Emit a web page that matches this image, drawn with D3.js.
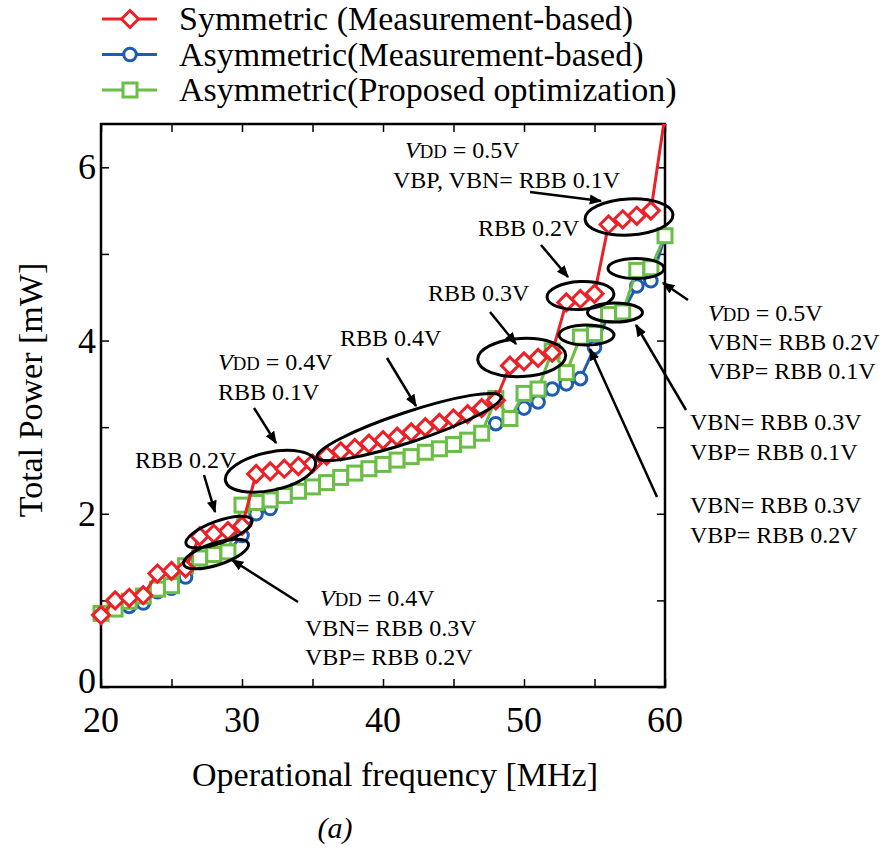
<!DOCTYPE html>
<html>
<head>
<meta charset="utf-8">
<script src="https://cdn.jsdelivr.net/npm/d3@7"></script>
<style>
  html, body { margin: 0; padding: 0; background: #fff; }
  svg { display: block; font-family: "Liberation Serif", "Times New Roman", serif; }
</style>
</head>
<body>
<svg id="chart" width="886" height="848"></svg>
<script>
// Operational frequency sweep [MHz]
const freq = [20,21,22,23,24,25,26,27,28,29,30,31,32,33,34,35,36,37,38,39,40,
              41,42,43,44,45,46,47,48,49,50,51,52,53,54,55,56,57,58,59,60];

// Total power [mW]
const symmetricMeas = [0.83,1.00,1.03,1.06,1.31,1.34,1.37,1.74,1.77,1.80,1.86,
  2.46,2.49,2.52,2.55,2.58,2.67,2.72,2.76,2.81,2.85,2.89,2.94,3.00,3.05,3.10,
  3.15,3.22,3.31,3.71,3.76,3.80,3.86,4.44,4.48,4.54,5.34,5.40,5.44,5.50,6.60];
const asymmetricMeas = [0.83,0.90,0.93,0.97,1.10,1.14,1.27,1.48,1.52,1.56,1.75,
  2.00,2.06,2.20,2.26,2.31,2.36,2.42,2.47,2.52,2.57,2.62,2.66,2.71,2.75,2.80,
  2.85,2.93,3.04,3.10,3.22,3.29,3.44,3.50,3.56,3.92,4.30,4.33,4.63,4.69,5.20];
const asymmetricOpt = [0.85,0.90,0.99,1.05,1.13,1.17,1.40,1.49,1.53,1.56,2.10,
  2.13,2.16,2.21,2.26,2.31,2.36,2.42,2.47,2.52,2.57,2.62,2.66,2.71,2.75,2.80,
  2.85,2.93,3.33,3.10,3.39,3.44,3.88,3.63,4.04,4.08,4.30,4.33,4.81,4.84,5.21];

const seriesNames = ["Symmetric (Measurement-based)",
                     "Asymmetric(Measurement-based)",
                     "Asymmetric(Proposed optimization)"];

const xTicks = [20,30,40,50,60];
const xMinorTicks = [20,25,30,35,40,45,50,55,60];
const yTicks = [0,2,4,6];
const yMinorTicks = [0,1,2,3,4,5,6];

// ---- layout ----
const svg = d3.select("#chart");
const plot = { left: 101, right: 665, top: 124, bottom: 687 };

const x = d3.scaleLinear().domain([20, 60]).range([plot.left, plot.right]);
const y = d3.scaleLinear().domain([0, 6.5]).range([plot.bottom, plot.top]);

const colors = { red: "#ec2027", blue: "#1f5bb0", green: "#6abd45" };
const strokeW = 3;

// data are clipped only at the top of the frame
svg.append("defs").append("clipPath").attr("id", "plotClip")
  .append("rect")
  .attr("x", 0).attr("y", plot.top)
  .attr("width", 886).attr("height", 848 - plot.top);

svg.select("defs").append("marker")
  .attr("id", "arrow")
  .attr("viewBox", "0 0 10 10")
  .attr("refX", 9).attr("refY", 5)
  .attr("markerWidth", 5).attr("markerHeight", 5)
  .attr("markerUnits", "strokeWidth")
  .attr("orient", "auto")
  .append("path").attr("d", "M0,1 L10,5 L0,9 Z").attr("fill", "#000");

// ---- axes (ticks inside, mirrored on all four sides) ----
const tickLen = 8;
const axisFont = 36;

const gBottom = svg.append("g").attr("transform", `translate(0,${plot.bottom})`)
  .call(d3.axisBottom(x).tickValues(xMinorTicks).tickSize(-tickLen).tickFormat(""));
const gTop = svg.append("g").attr("transform", `translate(0,${plot.top})`)
  .call(d3.axisTop(x).tickValues(xMinorTicks).tickSize(-tickLen).tickFormat(""));
const gLeft = svg.append("g").attr("transform", `translate(${plot.left},0)`)
  .call(d3.axisLeft(y).tickValues(yMinorTicks).tickSize(-tickLen).tickFormat(""));
const gRight = svg.append("g").attr("transform", `translate(${plot.right},0)`)
  .call(d3.axisRight(y).tickValues(yMinorTicks).tickSize(-tickLen).tickFormat(""));
[gBottom, gTop, gLeft, gRight].forEach(g => {
  g.select(".domain").remove();
  g.selectAll("line").attr("stroke", "#000").attr("stroke-width", 1.5);
});

svg.append("rect")
  .attr("x", plot.left).attr("y", plot.top)
  .attr("width", plot.right - plot.left).attr("height", plot.bottom - plot.top)
  .attr("fill", "none").attr("stroke", "#000").attr("stroke-width", 2.5);

// tick labels
svg.append("g").selectAll("text").data(xTicks).join("text")
  .attr("x", d => x(d)).attr("y", plot.bottom + 45)
  .attr("text-anchor", "middle").attr("font-size", axisFont)
  .text(d => d);
svg.append("g").selectAll("text").data(yTicks).join("text")
  .attr("x", plot.left - 5).attr("y", d => y(d) + (d === 0 ? 6 : 12))
  .attr("text-anchor", "end").attr("font-size", axisFont)
  .text(d => d);

// axis titles
svg.append("text")
  .attr("x", 395).attr("y", 786)
  .attr("text-anchor", "middle").attr("font-size", 34)
  .text("Operational frequency [MHz]");
svg.append("text")
  .attr("transform", `translate(42,390) rotate(-90)`)
  .attr("text-anchor", "middle").attr("font-size", 34)
  .text("Total Power [mW]");
svg.append("text")
  .attr("x", 335).attr("y", 838)
  .attr("text-anchor", "middle").attr("font-size", 30).attr("font-style", "italic")
  .text("(a)");

// ---- series ----
const series = [
  { name: seriesNames[1], values: asymmetricMeas, color: colors.blue, shape: "circle" },
  { name: seriesNames[2], values: asymmetricOpt, color: colors.green, shape: "square" },
  { name: seriesNames[0], values: symmetricMeas, color: colors.red, shape: "diamond" }
];

const lineGen = d3.line().x(d => x(d[0])).y(d => y(d[1]));

function drawMarker(sel, shape, color) {
  if (shape === "circle") {
    sel.append("circle").attr("r", 6.3);
  } else if (shape === "square") {
    sel.append("rect").attr("x", -7).attr("y", -7).attr("width", 14).attr("height", 14);
  } else {
    sel.append("path").attr("d", "M0,-8.5 L8.5,0 L0,8.5 L-8.5,0 Z");
  }
  sel.selectAll("circle,rect,path")
    .attr("fill", "#fff").attr("stroke", color).attr("stroke-width", strokeW);
}

const gSeries = svg.append("g").attr("clip-path", "url(#plotClip)");
series.forEach(s => {
  const pts = freq.map((f, i) => [f, s.values[i]]);
  const g = gSeries.append("g");
  g.append("path").datum(pts)
    .attr("d", lineGen).attr("fill", "none")
    .attr("stroke", s.color).attr("stroke-width", strokeW);
  g.selectAll("g.pt").data(pts).join("g").attr("class", "pt")
    .attr("transform", d => `translate(${x(d[0])},${y(d[1])})`)
    .each(function () { drawMarker(d3.select(this), s.shape, s.color); });
});

// ---- legend ----
const legend = svg.append("g");
const legendRows = [
  { name: seriesNames[0], color: colors.red, shape: "diamond" },
  { name: seriesNames[1], color: colors.blue, shape: "circle" },
  { name: seriesNames[2], color: colors.green, shape: "square" }
];
legendRows.forEach((r, i) => {
  const cy = 19 + i * 35.5;
  legend.append("line").attr("x1", 102).attr("x2", 157).attr("y1", cy).attr("y2", cy)
    .attr("stroke", r.color).attr("stroke-width", strokeW);
  const m = legend.append("g").attr("transform", `translate(130,${cy})`);
  drawMarker(m, r.shape, r.color);
  legend.append("text").attr("x", 179).attr("y", cy + 11)
    .attr("font-size", 34).text(r.name);
});

// ---- annotations ----
const ann = svg.append("g");
const annFont = 24;

function label(x0, y0, txt) {
  return ann.append("text").attr("x", x0).attr("y", y0).attr("font-size", annFont).text(txt);
}
function vddLabel(x0, y0, value) {
  const t = ann.append("text").attr("x", x0).attr("y", y0).attr("font-size", annFont);
  t.append("tspan").attr("font-style", "italic").text("V");
  t.append("tspan").attr("font-size", "0.78em").text("DD");
  t.append("tspan").text(" = " + value);
}

vddLabel(405, 158, "0.5V");
label(393, 188, "VBP, VBN= RBB 0.1V");
label(478, 236, "RBB 0.2V");
label(428, 301, "RBB 0.3V");
label(340, 346, "RBB 0.4V");
vddLabel(218, 370, "0.4V");
label(218, 400, "RBB 0.1V");
label(135, 468, "RBB 0.2V");
vddLabel(320, 606, "0.4V");
label(305, 636, "VBN= RBB 0.3V");
label(305, 665, "VBP= RBB 0.2V");
vddLabel(708, 321, "0.5V");
label(708, 350, "VBN= RBB 0.2V");
label(708, 379, "VBP= RBB 0.1V");
label(690, 430, "VBN= RBB 0.3V");
label(690, 460, "VBP= RBB 0.1V");
label(690, 513, "VBN= RBB 0.3V");
label(690, 543, "VBP= RBB 0.2V");

// ellipses highlighting operating-point groups: [cx, cy, rx, ry, angle]
const ellipses = [
  [629, 217, 44, 18, -3],
  [580.5, 295.5, 33.5, 14, -3],
  [636, 268.5, 28, 10, 0],
  [615, 312.5, 27.5, 9.5, 0],
  [586.5, 335, 27.5, 10, 0],
  [521.7, 357.5, 44, 19, -3],
  [409, 427, 97, 15, -18.3],
  [270.5, 471.3, 46, 19, -12],
  [219, 532, 35, 11, -20],
  [216, 554, 34, 11, -18]
];
ann.selectAll("ellipse").data(ellipses).join("ellipse")
  .attr("cx", 0).attr("cy", 0)
  .attr("rx", d => d[2]).attr("ry", d => d[3])
  .attr("transform", d => `translate(${d[0]},${d[1]}) rotate(${d[4]})`)
  .attr("fill", "none").attr("stroke", "#000").attr("stroke-width", 3);

// arrows: [x1, y1, x2, y2] (head at x2, y2)
const arrows = [
  [530, 192, 601, 201],
  [541, 245, 568, 277],
  [490, 312, 516, 344],
  [387, 358, 416, 406],
  [254, 408, 276, 443],
  [204, 475, 215, 512],
  [298, 602, 232, 560],
  [688, 300, 663, 283],
  [686, 410, 636, 325],
  [657, 497, 590, 349]
];
ann.selectAll("line.arrow").data(arrows).join("line").attr("class", "arrow")
  .attr("x1", d => d[0]).attr("y1", d => d[1])
  .attr("x2", d => d[2]).attr("y2", d => d[3])
  .attr("stroke", "#000").attr("stroke-width", 2.5)
  .attr("marker-end", "url(#arrow)");
</script>
</body>
</html>
